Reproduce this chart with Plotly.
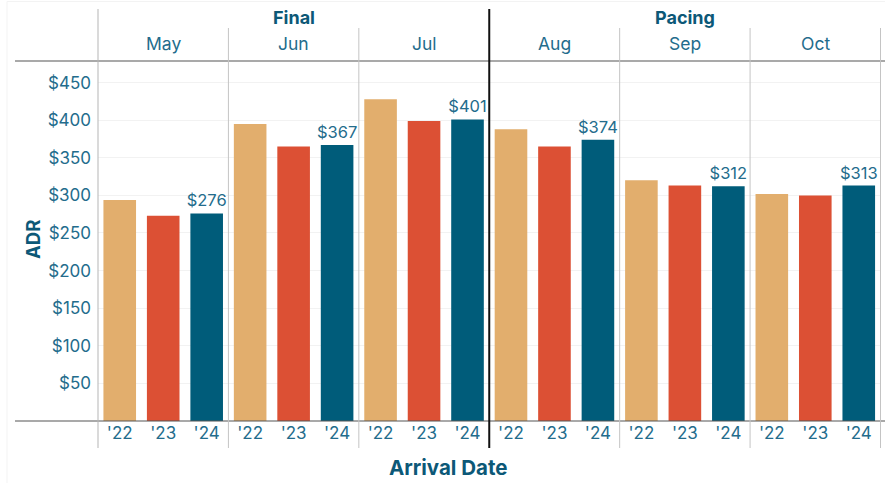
import plotly.graph_objects as go

months = ["May", "Jun", "Jul", "Aug", "Sep", "Oct"]
years = ["'22", "'23", "'24"]
groups = ["Final", "Pacing"]
adr_2022 = [294, 395, 428, 388, 320, 302]
adr_2023 = [273, 365, 399, 365, 313, 300]
adr_2024 = [276, 367, 401, 374, 312, 313]
y_ticks = [50, 100, 150, 200, 250, 300, 350, 400, 450]

colors = {"'22": "#E2AE6D", "'23": "#DC5034", "'24": "#005C7A"}
TXT = "#236C8C"
TITLE = "#0C5877"
FONT = "Inter, Lato, sans-serif"

cats, vals, cols, labels = [], [], [], []
series = {"'22": adr_2022, "'23": adr_2023, "'24": adr_2024}
for i, m in enumerate(months):
    for y in years:
        cats.append(f"{m} {y}")
        v = series[y][i]
        vals.append(v)
        cols.append(colors[y])
        labels.append(f"${v}" if y == "'24" else "")

fig = go.Figure(go.Bar(
    x=cats, y=vals, marker=dict(color=cols, line=dict(width=0)),
    text=labels, textposition="outside", cliponaxis=False, constraintext="none",
    textfont=dict(color=TXT, size=16.5, family=FONT),
))

W, H = 885, 483
L, R, T, B = 98, 4, 61, 62
pw = W - L - R
ph = H - T - B

def px_x(x):
    return (x - L) / pw

def px_y(y):
    return (H - B - y) / ph

shapes = []
for yy in [61, 421]:
    shapes.append(dict(type="line", xref="paper", yref="paper", x0=px_x(15), x1=px_x(885),
                       y0=px_y(yy), y1=px_y(yy), line=dict(color="#555555", width=1.2)))
shapes.append(dict(type="line", xref="paper", yref="paper", x0=0, x1=0,
                   y0=px_y(448), y1=px_y(9), line=dict(color="#b5b5b5", width=1)))
for k in range(1, 7):
    xpos = k * 3 - 0.5
    if k == 3:
        shapes.append(dict(type="line", xref="x", yref="paper", x0=xpos, x1=xpos,
                           y0=px_y(448), y1=px_y(9), line=dict(color="#111111", width=2)))
    else:
        shapes.append(dict(type="line", xref="x", yref="paper", x0=xpos, x1=xpos,
                           y0=px_y(448), y1=px_y(28), line=dict(color="#c4c4c4", width=1)))
# faint frame on top and left only
shapes.append(dict(type="line", xref="paper", yref="paper", x0=px_x(7), x1=px_x(885),
                   y0=px_y(1.5), y1=px_y(1.5), line=dict(color="#f3f3f3", width=1)))
shapes.append(dict(type="line", xref="paper", yref="paper", x0=px_x(7), x1=px_x(7),
                   y0=px_y(483), y1=px_y(1.5), line=dict(color="#f3f3f3", width=1)))

annotations = []
for i, m in enumerate(months):
    annotations.append(dict(x=f"{m} '23", y=px_y(44), xref="x", yref="paper", text=m,
                            showarrow=False, font=dict(size=17.5, color=TXT, family=FONT),
                            yanchor="middle"))
for g, mid in zip(groups, ["Jun '23", "Sep '23"]):
    annotations.append(dict(x=mid, y=px_y(18), xref="x", yref="paper", text=f"<b>{g}</b>",
                            showarrow=False, font=dict(size=18, color=TITLE, family=FONT),
                            yanchor="middle"))
annotations.append(dict(x=px_x(448), y=px_y(467), xref="paper", yref="paper",
                        text="<b>Arrival Date</b>", showarrow=False,
                        font=dict(size=20.5, color=TITLE, family=FONT), yanchor="middle"))
annotations.append(dict(x=px_x(33), y=px_y(240), xref="paper", yref="paper",
                        text="<b>ADR</b>", showarrow=False, textangle=-90,
                        font=dict(size=18.5, color=TITLE, family=FONT), xanchor="center",
                        yanchor="middle"))

fig.update_layout(
    width=W, height=H, margin=dict(l=L, r=R, t=T, b=B),
    paper_bgcolor="white", plot_bgcolor="white",
    bargap=0.25, showlegend=False,
    font=dict(family=FONT, color=TXT),
    shapes=shapes, annotations=annotations,
    xaxis=dict(type="category", tickvals=cats, ticktext=[c.split(" ")[1] for c in cats],
               tickfont=dict(size=17, color=TXT), showgrid=False, zeroline=False,
               showline=False, ticks="", ticklen=0),
    yaxis=dict(range=[0, 478.7], tickvals=y_ticks, ticktext=[f"${t}" for t in y_ticks],
               tickfont=dict(size=17, color=TXT), showgrid=True,
               gridcolor="#f2f2f2", gridwidth=1, zeroline=False, showline=False,
               ticks="", ticklabelstandoff=6),
)

fig.write_html("out.html")
